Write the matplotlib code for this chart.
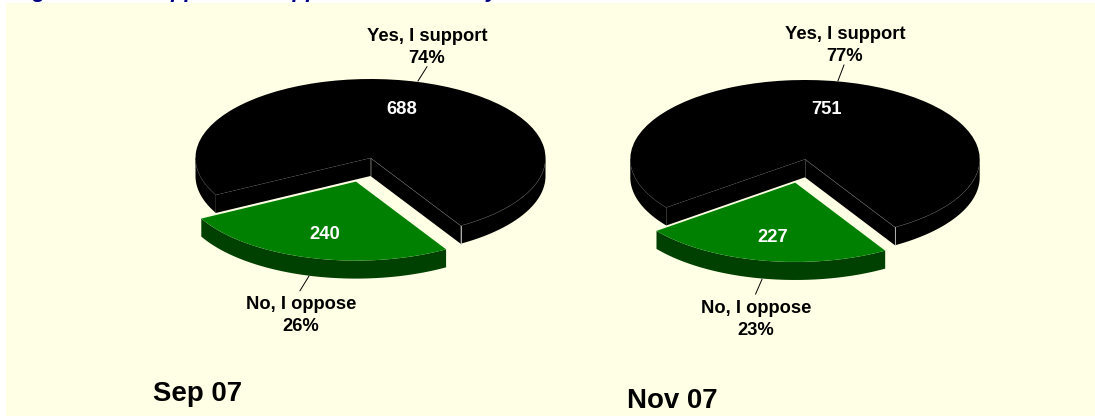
import numpy as np
import matplotlib
matplotlib.use('Agg')
import matplotlib.pyplot as plt
from matplotlib.patches import Rectangle

W, H = 1095, 418

# data
dates = ['Sep 07', 'Nov 07']
yes_counts = [688, 751]
no_counts = [240, 227]
yes_pct = ['74%', '77%']
no_pct = ['26%', '23%']
yes_label = 'Yes, I support'
no_label = 'No, I oppose'
# only the descenders show in the reference, the words are a guess
title = 'Figure 12.1: Support and opposition for Policy'

# pie geometry in pixels: centre x, centre y, radius x, radius y
pies = [(370.5, 158.0, 175.0, 79.0), (805.0, 159.3, 174.7, 79.3)]
depth = 18.0
end_angle = 301.0
explode = [0.31, 0.30]

bg = '#FFFFE5'
black = '#000000'
green = '#008000'
dark_green = '#004000'
font = 'Liberation Sans'

# text positions in pixels
yes_xy = [((427, 35), (427, 57)), ((845, 33), (845, 55))]
no_xy = [((300.7, 303.3), (300.7, 325)), ((756, 306.7), (756, 329))]
yes_num_xy = [(402, 108), (826, 108)]
no_num_xy = [(325, 233), (773, 235.7)]
date_xy = [(197.5, 392.7), (672.6, 399)]
yes_leader = [((427, 66.7), (418, 81)), ((844, 65), (838, 80.7))]
no_leader = [((309, 276), (300, 290.7)), ((762, 279.3), (755.6, 294))]


def arc(t1, t2, n=80):
    t = np.radians(np.linspace(t1, t2, n))
    return np.cos(t), np.sin(t)


def side(ax, wedge, d, color, zorder):
    ''' outer wall of one slice, only the part facing the viewer '''
    t1, t2 = wedge.theta1 % 360, wedge.theta2 % 360
    if t2 <= t1:
        t2 += 360
    cx, cy = wedge.center
    for lo, hi in [(180, 360), (540, 720)]:
        a, b = max(t1, lo), min(t2, hi)
        if a < b:
            x, y = arc(a, b)
            ax.fill(np.r_[x, x[::-1]] + cx, np.r_[y, y[::-1] - d] + cy,
                    color=color, lw=0, zorder=zorder)


def draw_pie(i):
    cx, cy, rx, ry = pies[i]
    ax = fig.add_axes([0, 0, 1, 1])
    ax.patch.set_alpha(0)
    d = depth / ry

    total = yes_counts[i] + no_counts[i]
    span = 360.0 * no_counts[i] / total
    wedges, _ = ax.pie([yes_counts[i], no_counts[i]], colors=[black, green],
                       explode=[0, explode[i]], startangle=end_angle,
                       wedgeprops={'lw': 0, 'zorder': 5})
    ax.set_aspect('auto')
    ax.set_xlim((0 - cx) / rx, (W - cx) / rx)
    ax.set_ylim((cy - H) / ry, cy / ry)
    ax.axis('off')

    yes_w, no_w = wedges

    # black slice walls
    side(ax, yes_w, d, black, 2)
    left = end_angle - span
    for t in (left, end_angle):
        x, y = arc(t, t, 2)
        ax.fill([0, x[0], x[0], 0], [0, y[0], y[0] - d, -d], color=black, lw=0, zorder=3)
    x, y = arc(end_angle, 360)
    ax.plot(x, y, color='#404040', lw=0.4, zorder=6)
    x, y = arc(180, left)
    ax.plot(x, y, color='#303030', lw=0.4, zorder=6)
    ex, ey = arc(end_angle, end_angle, 2)
    lx, ly = arc(left, left, 2)
    ax.plot([0, ex[0]], [0, ey[0]], color='#606060', lw=0.4, zorder=6)
    ax.plot([0, lx[0]], [0, ly[0]], color='#404040', lw=0.4, ls=(0, (2, 2)), zorder=6)
    ax.plot([0, 0], [0, -d], color='#606060', lw=0.4, zorder=6)
    ax.plot([ex[0], ex[0]], [ey[0], ey[0] - d], color='#D0D0D0', lw=0.6, zorder=6)

    # green slice wall, above the black one
    side(ax, no_w, d, dark_green, 4)
    no_w.set_zorder(7)
    return ax


fig = plt.figure(figsize=(W / 100, H / 100), dpi=100, facecolor='white')
bg_ax = fig.add_axes([0, 0, 1, 1])
bg_ax.set_xlim(0, W)
bg_ax.set_ylim(H, 0)
bg_ax.axis('off')

# title sits under the panel and over the top edge, only its descenders show
bg_ax.text(13, -2.5, title, ha='left', va='baseline', fontsize=15.84, fontweight='bold',
           style='italic', family=font, color='#000080', zorder=1)
bg_ax.add_patch(Rectangle((6.4, 3.3), W - 6.4, 413, color=bg, lw=0, zorder=2))

for i in range(len(dates)):
    draw_pie(i)

# overlay in pixel coordinates for labels
ax = fig.add_axes([0, 0, 1, 1])
ax.patch.set_alpha(0)
ax.set_xlim(0, W)
ax.set_ylim(H, 0)
ax.axis('off')


def label(xy, s, size=13.25, color='black'):
    ax.text(xy[0], xy[1] + 1.5, s, ha='center', va='center', fontsize=size,
            fontweight='bold', family=font, color=color, zorder=10)


for i in range(len(dates)):
    label(yes_xy[i][0], yes_label)
    label(yes_xy[i][1], yes_pct[i])
    label(no_xy[i][0], no_label)
    label(no_xy[i][1], no_pct[i])
    label(yes_num_xy[i], str(yes_counts[i]), color='white')
    label(no_num_xy[i], str(no_counts[i]), color='white')
    label(date_xy[i], dates[i], size=19.9)
    for p, q in (yes_leader[i], no_leader[i]):
        ax.plot([p[0], q[0]], [p[1], q[1]], color='black', lw=0.7, zorder=10)

fig.savefig('out.png', dpi=100, facecolor='white')
